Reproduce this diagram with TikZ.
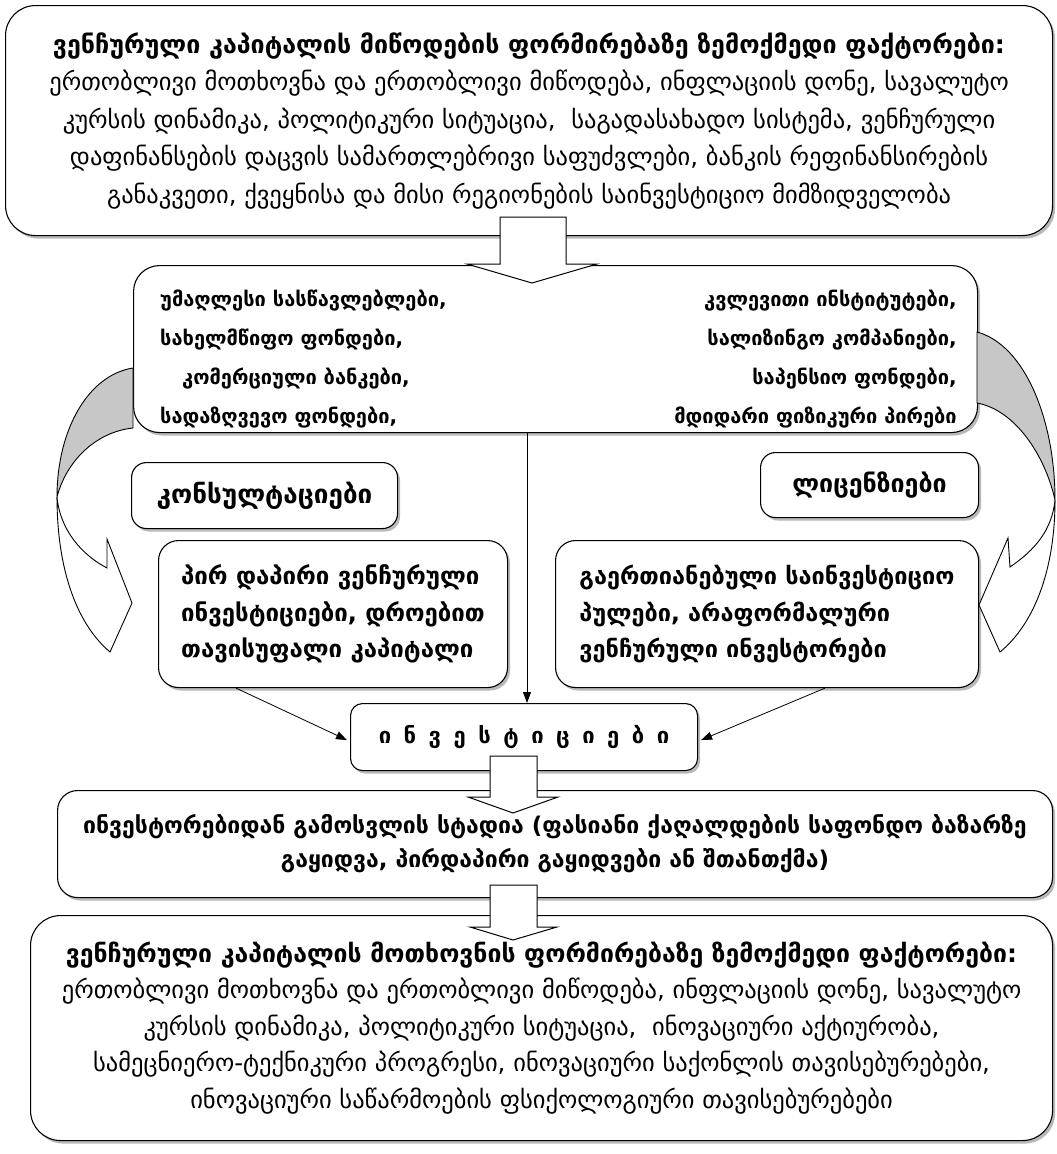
\documentclass[tikz,border=0pt]{standalone}
\usepackage{fontspec}
\setmainfont{DejaVu Sans}
\usetikzlibrary{shadows,arrows.meta,calc}
\begin{document}
\begin{tikzpicture}[x=1pt,y=-1pt,
  box/.style={draw=black, line width=1.1pt, fill=white,
    drop shadow={shadow xshift=2.5pt, shadow yshift=-3pt, fill=black!55},
    inner sep=0pt, align=center, anchor=north west},
  lbl/.style={inner sep=0pt},
  conn/.style={line width=0.8pt, -{Triangle[length=11pt,width=8pt]}},
  blockarr/.style={draw=black, line width=1pt, fill=white, line join=miter},
  curvedarr/.style={draw=black, line width=0.9pt}
]
\useasboundingbox (0,0) rectangle (1057,1154);

% ---------- boxes ----------
\node[box, rounded corners=30pt, minimum width=1047pt, minimum height=230pt,
  font=\fontsize{24.5}{37.5}\selectfont] (b1) at (5,5)
 {{\bfseries\fontsize{25}{37.5}\selectfont ვენჩურული კაპიტალის მიწოდების ფორმირებაზე ზემოქმედი ფაქტორები:}\\
  ერთობლივი მოთხოვნა და ერთობლივი მიწოდება, ინფლაციის დონე, სავალუტო\\
  კურსის დინამიკა, პოლიტიკური სიტუაცია,\ \ საგადასახადო სისტემა, ვენჩურული\\
  დაფინანსების დაცვის სამართლებრივი საფუძვლები, ბანკის რეფინანსირების\\
  განაკვეთი, ქვეყნისა და მისი რეგიონების საინვესტიციო მიმზიდველობა};

\node[box, rounded corners=26pt, minimum width=844pt, minimum height=167pt] (b2) at (133,265) {};
\node[lbl, anchor=north west, align=left, font=\bfseries\fontsize{20}{38.8}\selectfont] (b2l) at (160,290)
 {უმაღლესი სასწავლებლები,\\
  სახელმწიფო ფონდები,\\
  \hspace*{22pt}კომერციული ბანკები,\\
  სადაზღვევო ფონდები,};
\node[lbl, anchor=north east, align=right, font=\bfseries\fontsize{20}{38.8}\selectfont] (b2r) at (957,290)
 {კვლევითი ინსტიტუტები,\\
  სალიზინგო კომპანიები,\\
  საპენსიო ფონდები,\hspace*{20pt}\\
  მდიდარი ფიზიკური პირები};

\node[box, rounded corners=15pt, minimum width=266pt, minimum height=66pt,
  font=\bfseries\fontsize{26}{30}\selectfont] (kons) at (131,462) {კონსულტაციები};
\node[box, rounded corners=15pt, minimum width=218pt, minimum height=65pt,
  font=\bfseries\fontsize{25}{30}\selectfont] (lic) at (760,452) {ლიცენზიები};

\node[box, rounded corners=20pt, minimum width=349pt, minimum height=147pt, align=left,
  font=\bfseries\fontsize{24}{36.5}\selectfont] (lb) at (158,540)
 {პირ დაპირი ვენჩურული\\ ინვესტიციები, დროებით\\ თავისუფალი კაპიტალი};
\node[box, rounded corners=20pt, minimum width=423pt, minimum height=147pt, align=left,
  font=\bfseries\fontsize{23.5}{36.5}\selectfont] (rb) at (555,540)
 {გაერთიანებული საინვესტიციო\\ პულები, არაფორმალური\\ ვენჩურული ინვესტორები};

\node[box, rounded corners=12pt, minimum width=347pt, minimum height=67pt,
  font=\bfseries\fontsize{22}{30}\selectfont] (inv) at (350,703)
 {\spaceskip=12.5pt ი ნ ვ ე ს ტ ი ც ი ე ბ ი};

\node[box, rounded corners=20pt, minimum width=995pt, minimum height=107pt,
  font=\bfseries\fontsize{23}{34}\selectfont] (b4) at (57,790)
 {ინვესტორებიდან გამოსვლის სტადია (ფასიანი ქაღალდების საფონდო ბაზარზე\\
  გაყიდვა, პირდაპირი გაყიდვები ან შთანთქმა)};

\node[box, rounded corners=30pt, minimum width=1022pt, minimum height=225pt,
  font=\fontsize{24.5}{36.5}\selectfont] (b5) at (30,915)
 {{\bfseries\fontsize{24.8}{36.5}\selectfont ვენჩურული კაპიტალის მოთხოვნის ფორმირებაზე ზემოქმედი ფაქტორები:}\\
  ერთობლივი მოთხოვნა და ერთობლივი მიწოდება, ინფლაციის დონე, სავალუტო\\
  კურსის დინამიკა, პოლიტიკური სიტუაცია,\ \ ინოვაციური აქტიურობა,\\
  სამეცნიერო-ტექნიკური პროგრესი, ინოვაციური საქონლის თავისებურებები,\\
  ინოვაციური საწარმოების ფსიქოლოგიური თავისებურებები};

% ---------- block arrows ----------
\draw[blockarr] (500,217) -- (500,264) -- (467,264) -- (532,283) -- (597,264) -- (566,264) -- (566,217) -- cycle;
\draw[blockarr] (490,756) -- (490,797) -- (468,797) -- (513,813) -- (558,797) -- (537,797) -- (537,756) -- cycle;
\draw[blockarr] (490,885) -- (490,927) -- (470,927) -- (513,940) -- (557,927) -- (537,927) -- (537,885) -- cycle;

% ---------- curved arrows ----------
\draw[curvedarr, fill=black!22] (133,368) .. controls (88,375) and (57,430) .. (57,497)
   .. controls (66,462) and (95,432) .. (133,428) -- cycle;
\draw[curvedarr, fill=white] (57,497) .. controls (57,572) and (78,625) .. (110,652)
   -- (132,603) -- (107,539) -- (107,568) .. controls (82,555) and (60,530) .. (57,497) -- cycle;

\draw[curvedarr, fill=black!22] (977,332) .. controls (1025,345) and (1055,420) .. (1055,500)
   .. controls (1045,455) and (1015,410) .. (977,403) -- cycle;
\draw[curvedarr, fill=white] (1055,500) .. controls (1055,572) and (1033,625) .. (1000,652)
   -- (979,605) -- (1008,538) -- (1010,567) .. controls (1035,550) and (1052,530) .. (1055,500) -- cycle;

% ---------- connectors ----------
\coordinate (vtop) at (527,432);
\draw[conn] (vtop) -- (vtop |- inv.north);
\draw[conn] ($(lb.south west)+(78,0)$) -- ($(inv.west)+(-3,3)$);
\draw[conn] ($(rb.south west)+(270,0)$) -- ($(inv.east)+(3,3)$);
\end{tikzpicture}
\end{document}
